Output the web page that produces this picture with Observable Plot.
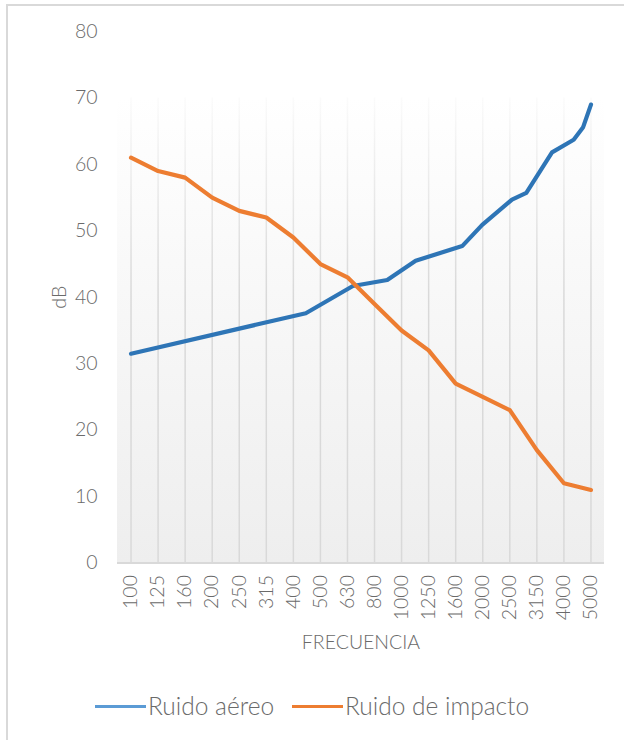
<!DOCTYPE html>
<html><head><meta charset="utf-8">
<script src="https://cdn.jsdelivr.net/npm/d3@7"></script>
<script src="https://cdn.jsdelivr.net/npm/@observablehq/plot@0.6"></script>
<style>
body{margin:0;background:#fff;}
#wrap{position:relative;width:624px;height:740px;overflow:hidden;font-family:Lato,sans-serif;}
#frame{position:absolute;left:6px;top:4px;width:700px;height:800px;border-left:2px solid #d9d9d9;border-top:2px solid #d9d9d9;}
#chart{position:absolute;left:0;top:0;}
#legend{position:absolute;top:692px;left:0;width:624px;height:30px;font-size:24.5px;font-weight:300;color:#6a6a6a;line-height:28px;white-space:nowrap;}
.sw{width:51px;height:3px;margin-right:2px;}
.item{position:absolute;top:0;display:flex;align-items:center;}
#chart svg text{font-weight:300;}
</style></head>
<body><div id="wrap"><div id="frame"></div><div id="chart"></div><div id="legend"></div></div>
<script>
const frecuencias = ["100","125","160","200","250","315","400","500","630","800","1000","1250","1600","2000","2500","3150","4000","5000"];
const impacto = [61,59,58,55,53,52,49,45,43,39,35,32,27,25,23,17,12,11];
// Ruido aéreo: posiciones (índice de banda) y valores
const aereoPos = [0,6.46,8.2,9.47,10.52,12.24,12.98,14.08,14.61,15.56,16.36,16.71,17];
const aereoVal = [31.5,37.6,41.7,42.6,45.5,47.7,50.9,54.7,55.7,61.8,63.7,65.6,69];
const series = ["Ruido aéreo","Ruido de impacto"];
const colores = ["#2e75b6","#ed7d31"];
const coloresLeyenda = ["#5b9bd5","#ed7d31"];
const yTicks = [0,10,20,30,40,50,60,70,80];
const fondoTope = 70;
const leyendaX = [95, 292];

const idx = d3.range(frecuencias.length);
const datosImpacto = idx.map(i => ({x: i, y: impacto[i]}));
const datosAereo = aereoPos.map((p, i) => ({x: p, y: aereoVal[i]}));

const chart = Plot.plot({
  width: 624, height: 660,
  marginTop: 31, marginBottom: 97.5, marginLeft: 117, marginRight: 20,
  style: {fontFamily: "Lato, sans-serif", fontSize: "19.5px", color: "#6a6a6a", background: "transparent"},
  x: {type: "linear", domain: [-0.5, frecuencias.length - 0.5]},
  y: {domain: [0, 80]},
  marks: [
    Plot.rect([0], {x1: () => -0.5, x2: () => frecuencias.length - 0.5, y1: 0, y2: fondoTope, fill: "url(#bgGrad)"}),
    Plot.ruleX(idx, {x: d => d, y1: 0, y2: fondoTope, stroke: "url(#gridGrad)", strokeWidth: 1.5}),
    Plot.ruleY([0], {stroke: "#d9d9d9", strokeWidth: 2}),
    Plot.axisY({ticks: yTicks, tickSize: 0, tickPadding: 20, label: "dB", labelAnchor: "center", labelArrow: "none", labelOffset: 65, fontSize: 19.5}),
    Plot.axisX({ticks: idx, tickFormat: i => frecuencias[i], tickRotate: -90, tickSize: 0, tickPadding: 12, label: "FRECUENCIA", labelAnchor: "center", labelArrow: "none", labelOffset: 86, fontSize: 19.5}),
    Plot.line(datosAereo, {x: "x", y: "y", stroke: colores[0], strokeWidth: 4.2, strokeLinejoin: "round", strokeLinecap: "round"}),
    Plot.line(datosImpacto, {x: "x", y: "y", stroke: colores[1], strokeWidth: 4.2, strokeLinejoin: "round", strokeLinecap: "round"})
  ]
});

const yS = chart.scale("y");
const svg = d3.select(chart);
const defs = svg.insert("defs", ":first-child");
const bg = defs.append("linearGradient").attr("id", "bgGrad").attr("x1", 0).attr("y1", 0).attr("x2", 0).attr("y2", 1);
bg.append("stop").attr("offset", "0%").attr("stop-color", "#ffffff");
bg.append("stop").attr("offset", "100%").attr("stop-color", "#eeeeee");
const gg = defs.append("linearGradient").attr("id", "gridGrad").attr("gradientUnits", "userSpaceOnUse")
  .attr("x1", 0).attr("x2", 0).attr("y1", yS.apply(fondoTope)).attr("y2", yS.apply(40));
gg.append("stop").attr("offset", "0%").attr("stop-color", "#d9d9d9").attr("stop-opacity", 0.1);
gg.append("stop").attr("offset", "100%").attr("stop-color", "#d9d9d9").attr("stop-opacity", 1);

document.getElementById("chart").appendChild(chart);

const leg = d3.select("#legend");
series.forEach((s, i) => {
  const it = leg.append("div").attr("class", "item").style("left", leyendaX[i] + "px");
  it.append("div").attr("class", "sw").style("background", coloresLeyenda[i]);
  it.append("span").text(s);
});
</script>
</body></html>
